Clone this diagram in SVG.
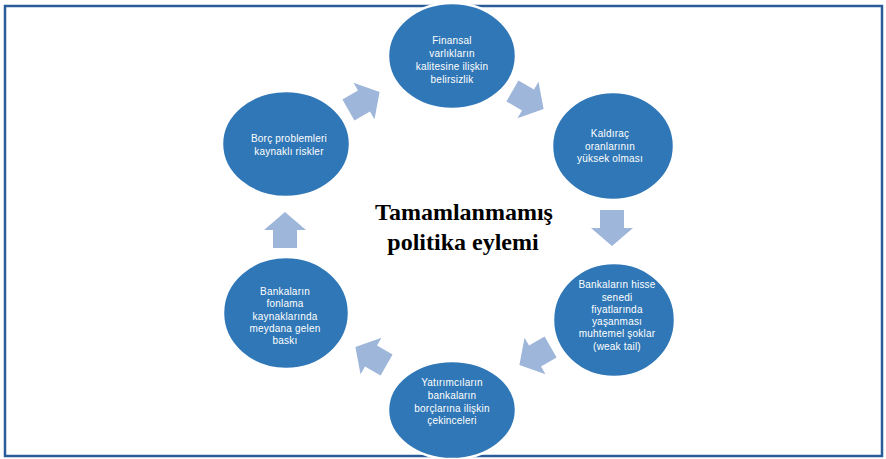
<svg xmlns="http://www.w3.org/2000/svg" width="886" height="459" viewBox="0 0 886 459">
<style>
.frame{fill:none;stroke:#2A5C9A;stroke-width:2.5}
.node ellipse{fill:#2F77B6;stroke:#ffffff;stroke-width:2.5}
.lbl{font-family:"Liberation Sans",Arial,sans-serif;font-size:10px;letter-spacing:0.2px;fill:#ffffff;text-anchor:middle}
.arr{fill:#9DB6DA}
.title{font-family:"Liberation Serif","Times New Roman",serif;font-weight:bold;font-size:24px;fill:#000000;text-anchor:middle}
</style>
<defs>
<path id="ar" d="M-18,-12 H0 V-21 L18,0 L0,21 V12 H-18 Z"/>
</defs>
<rect width="886" height="459" fill="#ffffff"/>
<rect class="frame" x="5" y="6" width="877" height="450"/>
<g id="connectors">
<use href="#ar" class="arr" transform="translate(364,101) rotate(-30)"/>
<use href="#ar" class="arr" transform="translate(528,100) rotate(30)"/>
<use href="#ar" class="arr" transform="translate(612,228) rotate(90)"/>
<use href="#ar" class="arr" transform="translate(535,356) rotate(150)"/>
<use href="#ar" class="arr" transform="translate(371,356) rotate(210)"/>
<use href="#ar" class="arr" transform="translate(285,230) rotate(270)"/>
</g>
<g id="n1" class="node">
<ellipse cx="452" cy="56" rx="64" ry="53"/>
<text class="lbl" x="452" y="44">Finansal</text>
<text class="lbl" x="452" y="57">varlıkların</text>
<text class="lbl" x="452" y="70">kalitesine ilişkin</text>
<text class="lbl" x="452" y="83">belirsizlik</text>
</g>
<g id="n2" class="node">
<ellipse cx="613" cy="146" rx="61" ry="54"/>
<text class="lbl" x="610" y="137">Kaldıraç</text>
<text class="lbl" x="610" y="150">oranlarının</text>
<text class="lbl" x="610" y="162">yüksek olması</text>
</g>
<g id="n3" class="node">
<ellipse cx="614" cy="320" rx="61" ry="57"/>
<text class="lbl" x="617" y="288">Bankaların hisse</text>
<text class="lbl" x="617" y="301">senedi</text>
<text class="lbl" x="617" y="313">fiyatlarında</text>
<text class="lbl" x="617" y="325">yaşanması</text>
<text class="lbl" x="617" y="337">muhtemel şoklar</text>
<text class="lbl" x="617" y="350">(weak tail)</text>
</g>
<g id="n4" class="node">
<ellipse cx="452" cy="410" rx="64" ry="49"/>
<text class="lbl" x="452" y="386">Yatırımcıların</text>
<text class="lbl" x="452" y="399">bankaların</text>
<text class="lbl" x="452" y="412">borçlarına ilişkin</text>
<text class="lbl" x="452" y="424">çekinceleri</text>
</g>
<g id="n5" class="node">
<ellipse cx="286" cy="313" rx="63" ry="56"/>
<text class="lbl" x="285" y="295">Bankaların</text>
<text class="lbl" x="285" y="307">fonlama</text>
<text class="lbl" x="285" y="320">kaynaklarında</text>
<text class="lbl" x="285" y="332">meydana gelen</text>
<text class="lbl" x="285" y="344">baskı</text>
</g>
<g id="n6" class="node">
<ellipse cx="286" cy="144" rx="64" ry="53"/>
<text class="lbl" x="289" y="142">Borç problemleri</text>
<text class="lbl" x="289" y="155">kaynaklı riskler</text>
</g>
<g id="title">
<text class="title" x="464" y="220">Tamamlanmamış</text>
<text class="title" x="463" y="250">politika eylemi</text>
</g>
</svg>
